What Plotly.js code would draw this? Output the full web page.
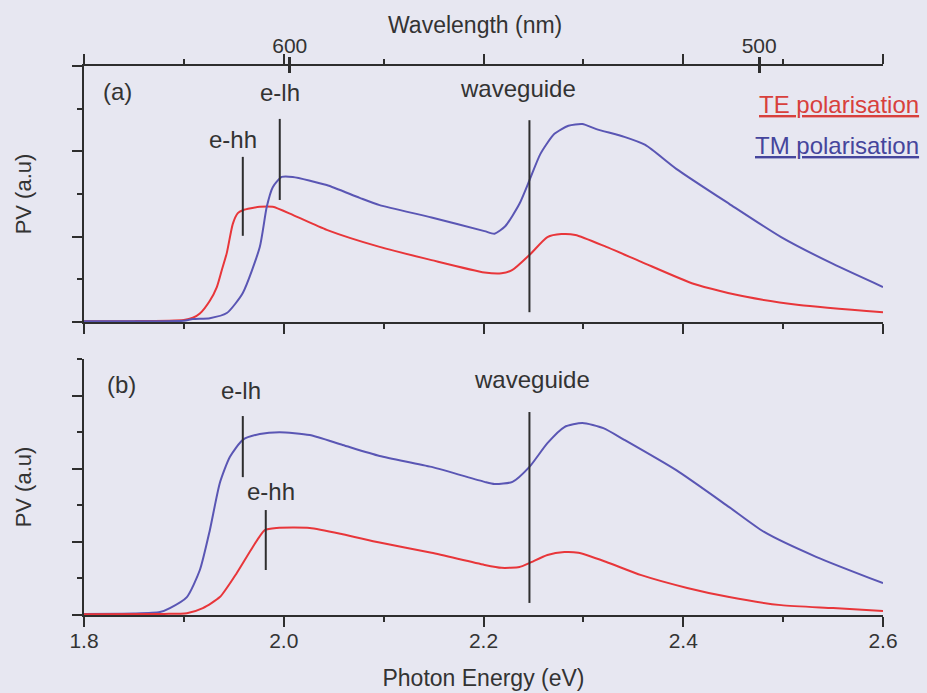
<!DOCTYPE html>
<html>
<head>
<meta charset="utf-8">
<script src="https://cdn.plot.ly/plotly-3.0.1.min.js"></script>
<style>html,body{margin:0;padding:0;background:#e7e7f1;}#chart{width:927px;height:693px;}</style>
</head>
<body>
<div id="chart"></div>
<script>
// ---- Data ----
// Panel (a)
const aTE_E = [1.80,1.85,1.90,1.909,1.916,1.926,1.933,1.938,1.943,1.949,1.954,1.959,1.976,1.989,2.009,2.043,2.096,2.148,2.201,2.218,2.229,2.246,2.264,2.278,2.292,2.323,2.358,2.411,2.463,2.516,2.60];
const aTE_V = [0.02,0.02,0.05,0.10,0.20,0.50,0.82,1.22,1.62,2.30,2.55,2.62,2.70,2.70,2.51,2.16,1.76,1.45,1.16,1.14,1.22,1.57,1.99,2.06,2.04,1.76,1.41,0.89,0.59,0.40,0.23];
const aTM_E = [1.80,1.85,1.90,1.909,1.926,1.943,1.959,1.976,1.983,1.989,1.998,2.009,2.043,2.076,2.096,2.148,2.201,2.211,2.222,2.236,2.246,2.257,2.271,2.285,2.299,2.313,2.341,2.362,2.393,2.446,2.498,2.550,2.60];
const aTM_V = [0.02,0.02,0.03,0.07,0.09,0.21,0.68,1.76,2.70,3.16,3.40,3.40,3.21,2.91,2.74,2.45,2.13,2.07,2.25,2.77,3.32,3.94,4.41,4.60,4.64,4.52,4.34,4.15,3.59,2.77,1.99,1.36,0.82];
// Panel (b)
const bTE_E = [1.80,1.88,1.903,1.919,1.936,1.953,1.969,1.981,1.993,2.026,2.059,2.096,2.148,2.201,2.218,2.236,2.246,2.264,2.281,2.295,2.323,2.358,2.404,2.446,2.498,2.550,2.60];
const bTE_V = [0.02,0.03,0.05,0.19,0.49,1.15,1.86,2.32,2.38,2.38,2.21,1.98,1.70,1.37,1.29,1.31,1.42,1.64,1.72,1.70,1.45,1.09,0.74,0.49,0.27,0.19,0.11];
const bTM_E = [1.80,1.85,1.876,1.886,1.903,1.916,1.926,1.936,1.946,1.959,1.976,1.996,2.026,2.059,2.096,2.148,2.201,2.211,2.229,2.246,2.264,2.281,2.299,2.320,2.341,2.393,2.446,2.481,2.533,2.60];
const bTM_V = [0.03,0.04,0.08,0.19,0.49,1.23,2.32,3.61,4.32,4.79,4.95,5.00,4.92,4.65,4.35,4.05,3.64,3.58,3.64,4.05,4.70,5.14,5.25,5.11,4.79,3.96,2.95,2.27,1.59,0.87];

// Tick labels
const energyTickVals = [1.8,2.0,2.2,2.4,2.6];
const energyTickText = ["1.8","2.0","2.2","2.4","2.6"];
const wavelengthTickText = ["600","500"];
const wavelengthTickEnergy = [2.006,2.476];

// Transition markers
const aMarkerLabels = ["e-hh","e-lh","waveguide"];
const aMarkerEnergy = [1.959,1.996,2.246];
const bMarkerLabels = ["e-lh","e-hh","waveguide"];
const bMarkerEnergy = [1.959,1.982,2.246];
const seriesNames = ["TE polarisation","TM polarisation"];

// ---- Styles ----
const RED = '#e8363a', BLUE = '#5a56b4', AX = '#2e2e2e', TXT = '#333333';
const FONT = 'Liberation Sans, Arial, sans-serif';

const lineStyle = c => ({color:c, width:2, shape:'spline', smoothing:0.6});
const traces = [
  {x:aTE_E, y:aTE_V, xaxis:'x2', yaxis:'y2', mode:'lines', line:lineStyle(RED), name:seriesNames[0], showlegend:false},
  {x:aTM_E, y:aTM_V, xaxis:'x2', yaxis:'y2', mode:'lines', line:lineStyle(BLUE), name:seriesNames[1], showlegend:false},
  {x:bTM_E, y:bTM_V, xaxis:'x', yaxis:'y', mode:'lines', line:lineStyle(BLUE), name:seriesNames[1], showlegend:false},
  {x:bTE_E, y:bTE_V, xaxis:'x', yaxis:'y', mode:'lines', line:lineStyle(RED), name:seriesNames[0], showlegend:false}
];
// empty traces so the top (wavelength) axes are drawn
['x3','x4','x5'].forEach(ax => traces.push({x:[null], y:[null], xaxis:ax, yaxis:'y2', mode:'lines', showlegend:false, hoverinfo:'skip'}));

const baseX = {range:[1.8,2.6], showgrid:false, zeroline:false, showline:true, linecolor:AX, linewidth:2,
  ticks:'outside', ticklen:10, tickwidth:2, tickcolor:AX, dtick:0.2, tick0:1.8,
  minor:{dtick:0.1, ticklen:5, tickwidth:2, tickcolor:AX, ticks:'outside', showgrid:false}};
const baseY = {showgrid:false, zeroline:false, showline:true, linecolor:AX, linewidth:2,
  ticks:'outside', ticklen:10, tickwidth:2, tickcolor:AX, dtick:2, tick0:0, showticklabels:false,
  minor:{dtick:1, ticklen:5, tickwidth:2, tickcolor:AX, ticks:'outside', showgrid:false}};

const layout = {
  width:927, height:693,
  margin:{l:84, r:44, t:66, b:78},
  paper_bgcolor:'#e7e7f1', plot_bgcolor:'#e7e7f1',
  font:{family:FONT, color:TXT, size:22},
  showlegend:false,
  xaxis: Object.assign({}, baseX, {anchor:'y', tickvals:energyTickVals, ticktext:energyTickText, tickmode:'array',
    tickfont:{size:21, color:TXT}, ticklabelstandoff:-4,
    title:{text:'Photon Energy (eV)', font:{size:23, color:TXT}, standoff:19}}),
  xaxis2: Object.assign({}, baseX, {anchor:'y2', matches:'x', showticklabels:false}),
  xaxis3: Object.assign({}, baseX, {anchor:'y2', overlaying:'x2', side:'top', showticklabels:false}),
  xaxis4: {range:[1.8,2.6], anchor:'y2', overlaying:'x2', side:'top', showgrid:false, zeroline:false, showline:false,
    tickmode:'array', tickvals:wavelengthTickEnergy, ticktext:wavelengthTickText, ticks:'outside', ticklen:8, tickwidth:3, tickcolor:AX,
    tickfont:{size:21, color:TXT}, ticklabelstandoff:-4},
  xaxis5: {range:[1.8,2.6], anchor:'y2', overlaying:'x2', side:'top', showgrid:false, zeroline:false, showline:false,
    tickmode:'array', tickvals:wavelengthTickEnergy, ticktext:['',''], ticks:'inside', ticklen:7, tickwidth:3, tickcolor:AX, showticklabels:false},
  yaxis: Object.assign({}, baseY, {domain:[0,0.4663], range:[0,7],
    title:{text:'PV (a.u)', font:{size:22, color:TXT}, standoff:34}}),
  yaxis2: Object.assign({}, baseY, {domain:[0.5337,1], range:[0,6],
    title:{text:'PV (a.u)', font:{size:22, color:TXT}, standoff:34}}),
  shapes: [], annotations: []
};

// top axis title (wavelength)
layout.annotations.push({text:'Wavelength (nm)', xref:'paper', yref:'paper', x:0.489, y:1.0747, xanchor:'center', yanchor:'middle', showarrow:false, font:{size:23,color:TXT}});

// marker lines
const aLineLo = [2.02,2.86,0.23], aLineHi = [3.87,4.76,4.73];
const bLineLo = [3.77,1.23,0.33], bLineHi = [5.44,2.87,5.55];
aMarkerEnergy.forEach((e,i)=>layout.shapes.push({type:'line', xref:'x2', yref:'y2', x0:e, x1:e, y0:aLineLo[i], y1:aLineHi[i], line:{color:AX,width:2}}));
bMarkerEnergy.forEach((e,i)=>layout.shapes.push({type:'line', xref:'x', yref:'y', x0:e, x1:e, y0:bLineLo[i], y1:bLineHi[i], line:{color:AX,width:2}}));

// marker labels
const aLabX = [1.949,1.996,2.235], aLabY = [4.27,5.37,5.48];
const bLabX = [1.957,1.987,2.249], bLabY = [6.13,3.39,6.43];
aMarkerLabels.forEach((t,i)=>layout.annotations.push({text:t, xref:'x2', yref:'y2', x:aLabX[i], y:aLabY[i], showarrow:false, font:{size:24,color:TXT}}));
bMarkerLabels.forEach((t,i)=>layout.annotations.push({text:t, xref:'x', yref:'y', x:bLabX[i], y:bLabY[i], showarrow:false, font:{size:24,color:TXT}}));
layout.annotations.push({text:'(a)', xref:'x2', yref:'y2', x:1.834, y:5.41, showarrow:false, font:{size:24,color:TXT}});
layout.annotations.push({text:'(b)', xref:'x', yref:'y', x:1.838, y:6.29, showarrow:false, font:{size:24,color:TXT}});
// series labels
layout.annotations.push({text:'<u>'+seriesNames[0]+'</u>', xref:'paper', yref:'paper', x:1.0475, xanchor:'right', y:0.929, yanchor:'middle', showarrow:false, font:{size:24,color:'#d8403c'}});
layout.annotations.push({text:'<u>'+seriesNames[1]+'</u>', xref:'paper', yref:'paper', x:1.0475, xanchor:'right', y:0.856, yanchor:'middle', showarrow:false, font:{size:24,color:'#45459c'}});

Plotly.newPlot('chart', traces, layout, {staticPlot:true, displayModeBar:false});
</script>
</body>
</html>
